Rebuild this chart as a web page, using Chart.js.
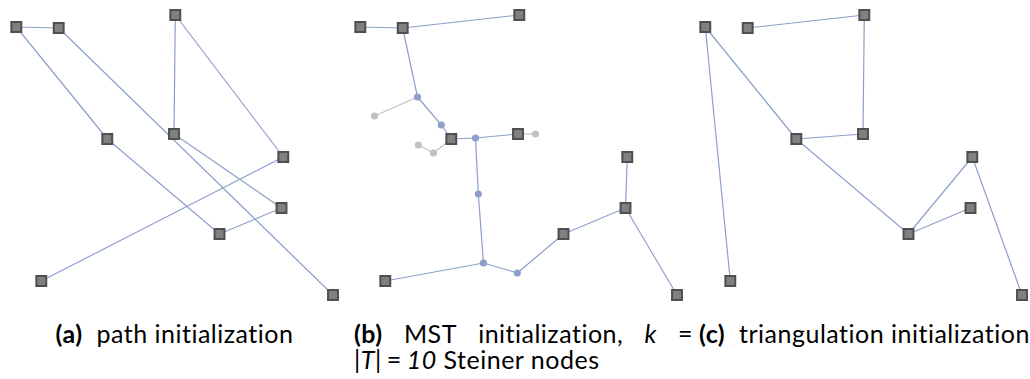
<!DOCTYPE html>
<html>
<head>
<meta charset="utf-8">
<script src="https://cdn.jsdelivr.net/npm/chart.js@4.4.0/dist/chart.umd.min.js"></script>
<style>
  body { margin: 0; width: 1030px; height: 379px; background: #fff; position: relative; overflow: hidden;
         font-family: Lato, "DejaVu Sans", sans-serif; font-size: 25px; color: #000; }
  .panel { position: absolute; top: 0; width: 344px; height: 310px; }
  .cap { position: absolute; top: 320px; white-space: nowrap; line-height: 26px; letter-spacing: 0.5px; }
  .row { display: flex; justify-content: space-between; }
  .op { margin: 0 5px; }
</style>
</head>
<body>
<div class="panel" style="left:0px"><canvas id="pathChart" width="344" height="310"></canvas></div>
<div class="panel" style="left:344px"><canvas id="mstChart" width="344" height="310"></canvas></div>
<div class="panel" style="left:689px"><canvas id="triChart" width="344" height="310"></canvas></div>

<div class="cap" style="left:0px;width:349px;text-align:center"><b>(a)</b>&nbsp; path initialization</div>
<div class="cap" style="left:354px;width:339px">
  <div class="row"><span><b>(b)</b></span><span>MST</span><span>initialization,</span><span><i>k</i></span><span>=</span></div>
  <div>|<i>T</i>|<span class="op">=</span><i>10</i> Steiner nodes</div>
</div>
<div class="cap" style="left:692px;width:345px;text-align:center"><b>(c)</b>&nbsp; triangulation initialization</div>

<script>
// terminals, same in all three panels (A..J)
const termX = [16.3, 58.7, 175.3, 174, 107.3, 283.3, 281.5, 219.5, 41.3, 333];
const termY = [27, 28, 15, 134, 139, 157, 208, 234, 281, 295];

// (a) path visiting order
const pathOrder = [8, 5, 2, 3, 6, 7, 4, 0, 1, 9];

// (b) steiner nodes used in the tree, and the unused ones
const steinerX = [73.5, 97.3, 131.5, 134.3, 139.5, 173.3];
const steinerY = [97, 125, 138, 194, 263, 273];
const unusedX = [30.5, 191.5, 89.5, 74.3];
const unusedY = [116, 134, 153, 145];
const mstEdges = [['t0','t1'],['t1','t2'],['t1','s0'],['s0','s1'],['s1','t4'],['t4','s2'],['s2','t3'],
  ['s2','s3'],['s3','s4'],['s4','t8'],['s4','s5'],['s5','t7'],['t7','t6'],['t6','t5'],['t6','t9']];
const unusedEdges = [['s0','u0'],['t3','u1'],['t4','u2'],['u2','u3']];

// (c) triangulation edges
const triEdges = [[0,8],[0,4],[4,3],[3,2],[2,1],[4,7],[7,5],[7,6],[5,9]];

const edgeColor = '#8da0cb';
const greyColor = '#c2c2c2';

function nodePos(id) {
  const i = parseInt(id.slice(1));
  if (id[0] === 't') return { x: termX[i], y: termY[i] };
  if (id[0] === 's') return { x: steinerX[i], y: steinerY[i] };
  return { x: unusedX[i], y: unusedY[i] };
}

function edgeSet(p, q, color) {
  return {
    data: [p, q], showLine: true, borderColor: color, borderWidth: 1.2,
    pointRadius: 0, order: 3, clip: false
  };
}

function terminalSet() {
  return {
    data: termX.map((x, i) => ({ x: x, y: termY[i] })),
    pointStyle: 'rect', pointRadius: 7, borderWidth: 2,
    borderColor: '#4f4f4f', backgroundColor: '#808080', order: 0, clip: false
  };
}

function makeChart(id, datasets) {
  new Chart(document.getElementById(id), {
    type: 'scatter',
    data: { datasets },
    options: {
      responsive: false, animation: false,
      layout: { padding: 0, autoPadding: false },
      plugins: { legend: { display: false }, tooltip: { enabled: false } },
      scales: {
        x: { display: false, min: 0, max: 344 },
        y: { display: false, min: 0, max: 310, reverse: true }
      }
    }
  });
}

// (a)
const pathSets = [];
for (let i = 0; i + 1 < pathOrder.length; i++) {
  const a = pathOrder[i], b = pathOrder[i + 1];
  pathSets.push(edgeSet({ x: termX[a], y: termY[a] }, { x: termX[b], y: termY[b] }, edgeColor));
}
pathSets.push(terminalSet());
makeChart('pathChart', pathSets);

// (b)
const mstSets = [];
unusedEdges.forEach(e => mstSets.push(edgeSet(nodePos(e[0]), nodePos(e[1]), greyColor)));
mstEdges.forEach(e => mstSets.push(edgeSet(nodePos(e[0]), nodePos(e[1]), edgeColor)));
mstSets.push({
  data: unusedX.map((x, i) => ({ x: x, y: unusedY[i] })),
  pointRadius: 3.6, borderWidth: 0, backgroundColor: greyColor, order: 1, clip: false
});
mstSets.push({
  data: steinerX.map((x, i) => ({ x: x, y: steinerY[i] })),
  pointRadius: 3.6, borderWidth: 0, backgroundColor: edgeColor, order: 1, clip: false
});
mstSets.push(terminalSet());
makeChart('mstChart', mstSets);

// (c)
const triSets = triEdges.map(e =>
  edgeSet({ x: termX[e[0]], y: termY[e[0]] }, { x: termX[e[1]], y: termY[e[1]] }, edgeColor));
triSets.push(terminalSet());
makeChart('triChart', triSets);
</script>
</body>
</html>
